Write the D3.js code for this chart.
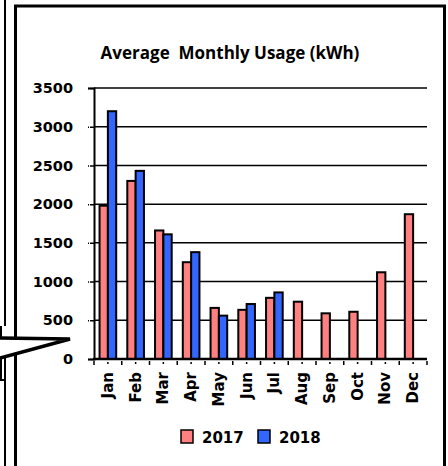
<!DOCTYPE html>
<html>
<head>
<meta charset="utf-8">
<script src="https://cdn.jsdelivr.net/npm/d3@7/dist/d3.min.js"></script>
<style>
  body { margin: 0; background: #fff; }
  svg { display: block; }
  text { font-family: "DejaVu Sans", sans-serif; font-weight: bold; fill: #000; }
</style>
</head>
<body>
<div id="chart"></div>
<script>
var months = ["Jan", "Feb", "Mar", "Apr", "May", "Jun", "Jul", "Aug", "Sep", "Oct", "Nov", "Dec"];
var years = ["2017", "2018"];
var usage2017 = [1980, 2300, 1660, 1250, 660, 635, 790, 740, 590, 610, 1120, 1870];
var usage2018 = [3200, 2430, 1610, 1380, 560, 710, 860, null, null, null, null, null];
var yTicks = [0, 500, 1000, 1500, 2000, 2500, 3000, 3500];
var colors = { "2017": "#ff8080", "2018": "#3366ff" };

var W = 448, H = 466;
var plot = { left: 94, right: 427, top: 88, bottom: 359 };

var svg = d3.select("#chart").append("svg")
    .attr("width", W)
    .attr("height", H);

// bits of the neighbouring callout box on the left
svg.append("line").attr("x1", 5).attr("y1", 0).attr("x2", 5).attr("y2", 326)
    .attr("stroke", "#000").attr("stroke-width", 2);
svg.append("line").attr("x1", 1).attr("y1", 326).attr("x2", 1).attr("y2", 338)
    .attr("stroke", "#000").attr("stroke-width", 2);
svg.append("line").attr("x1", 1).attr("y1", 358).attr("x2", 1).attr("y2", 380)
    .attr("stroke", "#000").attr("stroke-width", 2);
svg.append("line").attr("x1", 0).attr("y1", 380).attr("x2", 6).attr("y2", 380)
    .attr("stroke", "#000").attr("stroke-width", 2);
svg.append("line").attr("x1", 5).attr("y1", 358).attr("x2", 5).attr("y2", H)
    .attr("stroke", "#000").attr("stroke-width", 2);

// chart frame
svg.append("rect")
    .attr("x", 15.5).attr("y", 6)
    .attr("width", 429).attr("height", H + 10)
    .attr("fill", "none")
    .attr("stroke", "#000")
    .attr("stroke-width", 3);

// callout pointer over the frame
svg.append("path")
    .attr("d", "M0,338 L70,339 L0,358")
    .attr("fill", "#fff")
    .attr("stroke", "#000")
    .attr("stroke-width", 3.5)
    .attr("stroke-linejoin", "miter");

svg.append("text")
    .attr("x", 230).attr("y", 59)
    .attr("text-anchor", "middle")
    .style("white-space", "pre")
    .style("font-family", "'Open Sans', sans-serif")
    .style("font-size", "17px")
    .text("Average  Monthly Usage (kWh)");

var x = d3.scaleBand()
    .domain(months)
    .range([plot.left, plot.right])
    .paddingInner(0.4)
    .paddingOuter(0.2);

var xs = d3.scaleBand()
    .domain(years)
    .range([0, x.bandwidth()]);

var y = d3.scaleLinear()
    .domain([0, 3500])
    .range([plot.bottom, plot.top]);

// gridlines
svg.append("g")
    .selectAll("line")
    .data(yTicks.filter(function(d) { return d > 0; }))
    .enter().append("line")
    .attr("x1", plot.left).attr("x2", plot.right)
    .attr("y1", function(d) { return y(d); })
    .attr("y2", function(d) { return y(d); })
    .attr("stroke", "#000")
    .attr("stroke-width", 1.5);

// y axis
var yAxis = d3.axisLeft(y).tickValues(yTicks).tickFormat(d3.format("d")).tickSize(6).tickPadding(15);
var gy = svg.append("g")
    .attr("transform", "translate(" + plot.left + ",0)")
    .call(yAxis);
gy.select(".domain").attr("stroke-width", 2);
gy.selectAll(".tick line").attr("stroke-width", 1.5).attr("stroke-dasharray", "4,1");
gy.selectAll(".tick text")
    .style("font-family", "'DejaVu Sans', sans-serif")
    .style("font-weight", "bold")
    .style("font-size", "14.5px");

// bars
var rows = months.map(function(m, i) {
    return { month: m, values: [{ year: "2017", v: usage2017[i] }, { year: "2018", v: usage2018[i] }] };
});

svg.append("g")
    .selectAll("g")
    .data(rows)
    .enter().append("g")
    .attr("transform", function(d) { return "translate(" + x(d.month) + ",0)"; })
    .selectAll("rect")
    .data(function(d) { return d.values.filter(function(e) { return e.v != null; }); })
    .enter().append("rect")
    .attr("x", function(d) { return xs(d.year); })
    .attr("y", function(d) { return y(d.v); })
    .attr("width", xs.bandwidth())
    .attr("height", function(d) { return y(0) - y(d.v); })
    .attr("fill", function(d) { return colors[d.year]; })
    .attr("stroke", "#000")
    .attr("stroke-width", 2);

// x axis
var gx = svg.append("g")
    .attr("transform", "translate(0," + plot.bottom + ")");
gx.append("line")
    .attr("x1", plot.left - 1).attr("x2", plot.right)
    .attr("stroke", "#000").attr("stroke-width", 2.5);

var edge = (x.step() - x.bandwidth()) / 2;
var bounds = months.map(function(m) { return x(m) - edge; });
bounds.push(x(months[months.length - 1]) + x.bandwidth() + edge);

gx.selectAll(".bnd")
    .data(bounds)
    .enter().append("line")
    .attr("class", "bnd")
    .attr("x1", function(d) { return d; }).attr("x2", function(d) { return d; })
    .attr("y1", 2).attr("y2", 6)
    .attr("stroke", "#000").attr("stroke-width", 1.5);

gx.selectAll(".mid")
    .data(months)
    .enter().append("line")
    .attr("class", "mid")
    .attr("x1", function(d) { return x(d) + x.bandwidth() / 2; })
    .attr("x2", function(d) { return x(d) + x.bandwidth() / 2; })
    .attr("y1", 3).attr("y2", 5)
    .attr("stroke", "#000").attr("stroke-width", 1.5);

gx.selectAll(".lbl")
    .data(months)
    .enter().append("text")
    .attr("class", "lbl")
    .attr("transform", function(d) {
        return "translate(" + (x(d) + x.bandwidth() / 2 + 5) + ",13) rotate(-90)";
    })
    .attr("text-anchor", "end")
    .style("font-size", "15px")
    .text(function(d) { return d; });

// legend
var legend = svg.append("g")
    .selectAll("g")
    .data(years)
    .enter().append("g")
    .attr("transform", function(d, i) { return "translate(" + (181 + i * 77) + ",430)"; });
legend.append("rect")
    .attr("width", 12).attr("height", 13)
    .attr("fill", function(d) { return colors[d]; })
    .attr("stroke", "#000").attr("stroke-width", 1.5);
legend.append("text")
    .attr("x", 21).attr("y", 12.5)
    .style("font-size", "15px")
    .text(function(d) { return d; });
</script>
</body>
</html>
